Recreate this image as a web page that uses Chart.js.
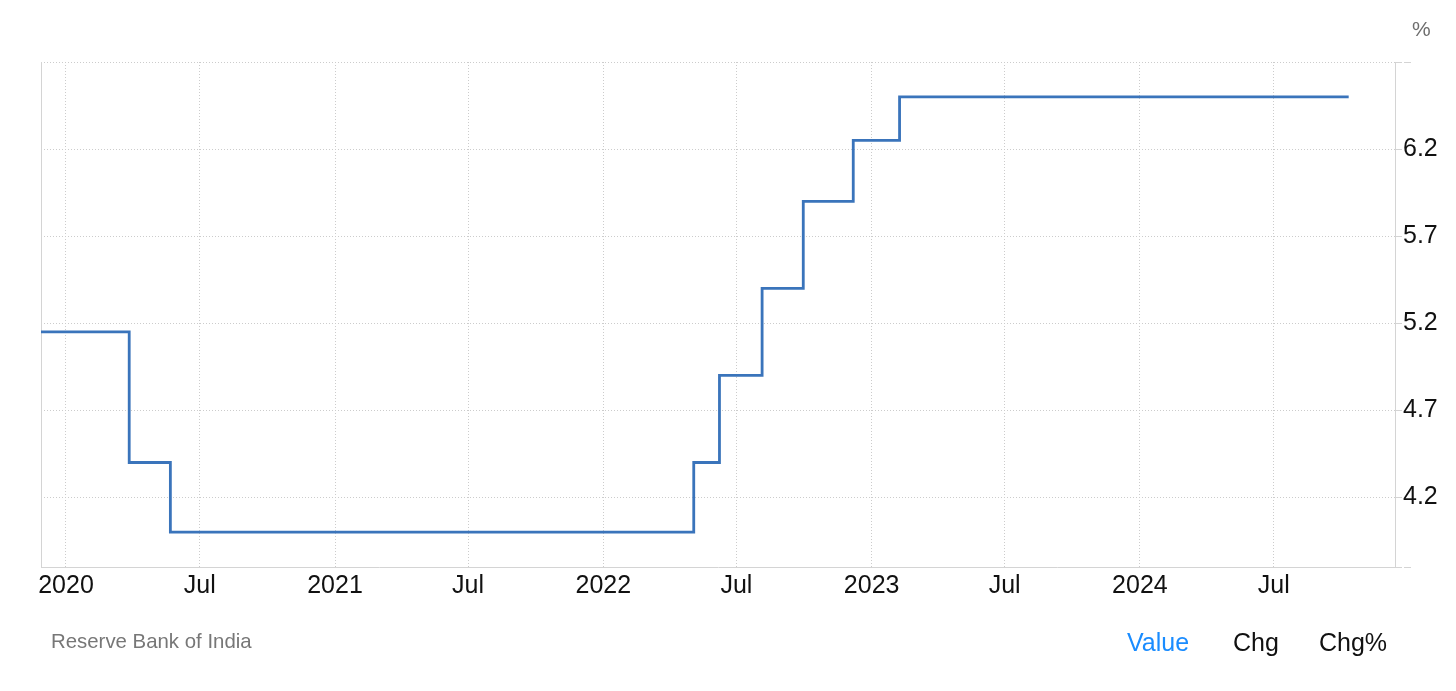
<!DOCTYPE html>
<html><head><meta charset="utf-8">
<script src="https://cdn.jsdelivr.net/npm/chart.js@4.4.1/dist/chart.umd.min.js"></script>
<style>
html,body{margin:0;padding:0;background:#fff;}
#wrap{position:relative;width:1456px;height:691px;overflow:hidden;font-family:"Liberation Sans",Arial,Helvetica,sans-serif;}
canvas{position:absolute;left:0;top:0;}
.t{position:absolute;line-height:1;white-space:nowrap;}
</style></head><body>
<div id="wrap">
<canvas id="c" width="1456" height="691"></canvas>
<div class="t" style="left:1412px;top:18px;font-size:21px;color:#6e6e6e">%</div>
<div class="t" style="left:51px;top:631px;font-size:20.4px;color:#777">Reserve Bank of India</div>
<div class="t" style="left:1127px;top:630px;font-size:25px;color:#1a8cff">Value</div>
<div class="t" style="left:1233px;top:630px;font-size:25px;color:#111">Chg</div>
<div class="t" style="left:1319px;top:630px;font-size:25px;color:#111">Chg%</div>
</div>
<script>
// ---- data ----
const changeDates = ['2019-11-28','2020-03-27','2020-05-22','2022-05-04','2022-06-08','2022-08-05','2022-09-30','2022-12-07','2023-02-08','2024-10-11'];
const repoRates   = [5.15, 4.40, 4.00, 4.40, 4.90, 5.40, 5.90, 6.25, 6.50, 6.50];
const xTickDates  = ['2020-01-01','2020-07-01','2021-01-01','2021-07-01','2022-01-01','2022-07-01','2023-01-01','2023-07-01','2024-01-01','2024-07-01'];
const xTickLabels = ['2020','Jul','2021','Jul','2022','Jul','2023','Jul','2024','Jul'];
const yTickValues = [4.2, 4.7, 5.2, 5.7, 6.2];
const xRange = ['2019-11-28','2024-12-13'];
const yRange = [3.8, 6.7];

const day = s => Date.parse(s) / 864e5;
const points = changeDates.map((d, i) => ({x: day(d), y: repoRates[i]}));
const xTicks = xTickDates.map(day);

const FONT = '"Liberation Sans", Arial, Helvetica, sans-serif';
const GRID = '#cccccc';
const AXIS = '#d4d4d4';

new Chart(document.getElementById('c'), {
  type: 'line',
  data: {
    datasets: [{
      data: points,
      stepped: true,
      borderColor: '#3a74bb',
      borderWidth: 2.8,
      pointRadius: 0,
      fill: false,
      tension: 0
    }]
  },
  options: {
    responsive: false,
    animation: false,
    devicePixelRatio: 1,
    layout: {padding: {left: 41, top: 62, right: 0, bottom: 0}},
    plugins: {legend: {display: false}, tooltip: {enabled: false}},
    scales: {
      x: {
        type: 'linear',
        position: 'bottom',
        min: day(xRange[0]),
        max: day(xRange[1]),
        afterBuildTicks: s => { s.ticks = xTicks.map(v => ({value: v})); },
        afterFit: s => { s.height = 124; s.paddingLeft = 0; s.paddingRight = 0; },
        ticks: {
          autoSkip: false, maxRotation: 0, minRotation: 0, padding: 4,
          color: '#111', font: {family: FONT, size: 25},
          callback: (v, i) => xTickLabels[i]
        },
        grid: {color: GRID, lineWidth: 1, drawTicks: false},
        border: {display: true, color: AXIS, width: 1, dash: [1, 2]}
      },
      y: {
        type: 'linear',
        position: 'right',
        min: yRange[0],
        max: yRange[1],
        afterBuildTicks: s => { s.ticks = [yRange[0], ...yTickValues, yRange[1]].map(v => ({value: v})); },
        afterFit: s => { s.width = 61; s.paddingTop = 0; s.paddingBottom = 0; },
        ticks: {
          padding: -8, color: '#111', font: {family: FONT, size: 25},
          showLabelBackdrop: true, backdropColor: '#fff', backdropPadding: {top: 0, bottom: 0, left: 1, right: 1},
          callback: v => yTickValues.includes(v) ? v.toFixed(1) : ''
        },
        grid: {color: GRID, lineWidth: 1, drawTicks: true, tickLength: 16, tickColor: AXIS, tickWidth: 1, tickBorderDash: []},
        border: {display: true, color: AXIS, width: 1, dash: [1, 2]}
      },
      yl: {
        type: 'linear',
        position: 'left',
        min: yRange[0],
        max: yRange[1],
        afterFit: s => { s.width = 0; s.paddingTop = 0; s.paddingBottom = 0; },
        ticks: {display: false},
        grid: {drawOnChartArea: false, drawTicks: false},
        border: {display: true, color: AXIS, width: 1}
      }
    }
  }
});
</script>
</body></html>
